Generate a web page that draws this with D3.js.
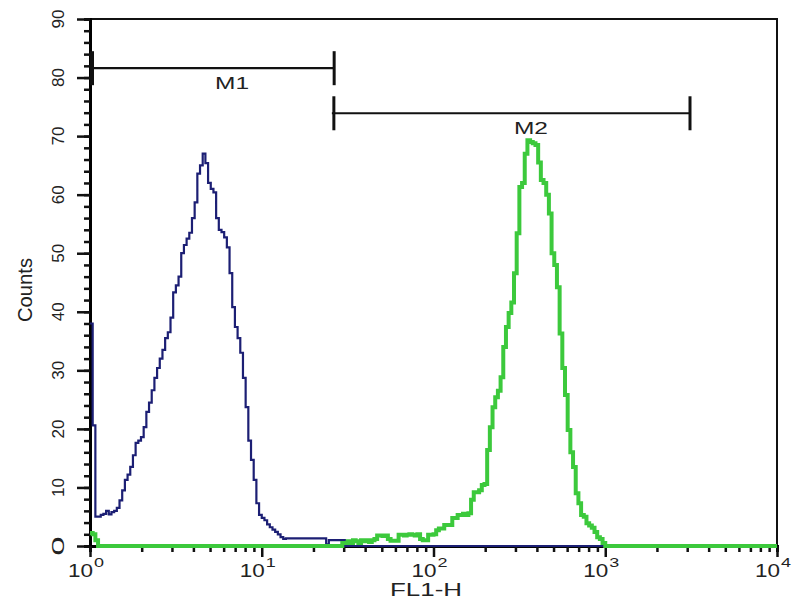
<!DOCTYPE html>
<html>
<head>
<meta charset="utf-8">
<script src="https://cdn.jsdelivr.net/npm/d3@7"></script>
<style>
  html, body { margin: 0; padding: 0; background: #fff; }
  svg { display: block; font-family: "Liberation Sans", Arial, sans-serif; }
</style>
</head>
<body>
<svg id="chart" width="800" height="600"></svg>
<script>
// 256 channels over 4 log decades (64 per decade), counts
const channels = 256;
const perDecade = 64;

// control (blue), starts at channel 0
const blueCounts = [
  38, 20.6, 5, 5, 5.3, 5.5, 6, 5.4, 5.8, 6,
  6.5, 7.8, 9.5, 11.3, 12.2, 13.5, 15.5, 17.6, 18, 18.6,
  20.3, 22.9, 24.5, 26.6, 28.7, 30.4, 32, 33.5, 35.5, 36.5,
  39, 43.3, 44.5, 46, 50, 51.4, 52.5, 53.5, 56, 58.7,
  63.6, 65, 67, 65.4, 62, 61, 60.4, 56, 54, 53.6,
  52.7, 51, 46.6, 40.8, 37.4, 35.5, 33, 28.7, 23.7, 18,
  14.7, 11.3, 7.3, 5.3, 4.8, 4.4, 3.7, 3.2, 2.8, 2.4,
  2, 1.5, 1.2, 1.3, 1.3, 1.3, 1.3, 1.3, 1.3, 1.3,
  1.3, 1.3, 1.3, 1.3, 1.3, 1.3, 1.3, 1.3, 0.3, 1,
  1, 1, 1, 1, 1
];

// stained sample (green), two stretches of non-empty channels
const greenLowStart = 0;
const greenLow = [2.2, 2, 1];
const greenHighStart = 94;
const greenHigh = [
  0.5, 0.5, 0.8, 0.5, 1, 0.8, 0.5, 1, 0.8, 1,
  0.7, 1, 1.2, 1.8, 1.8, 1.7, 1.8, 1.2, 0.9, 0.9,
  0.9, 1.9, 1.9, 1.8, 1.9, 2, 1.9, 1.8, 2, 1.2,
  1, 1, 1.9, 1.9, 2, 2.7, 3, 3, 3.6, 3.6,
  3.6, 4.8, 4.8, 5.3, 5.3, 5.5, 5.3, 5.6, 7.9, 9.2,
  9.2, 9.5, 10.4, 10.6, 16.4, 20.3, 23.7, 25.4, 26.5, 28.8,
  34, 37.4, 39.8, 41.6, 46.6, 53.4, 61.3, 62, 67, 69.3,
  69, 68.8, 68.5, 65.5, 62.5, 62, 60, 56.8, 50, 48,
  44.2, 36.3, 30.4, 25.8, 19.8, 16, 13.5, 9, 7.3, 5.3,
  5, 3.9, 3.5, 3.1, 2.4, 1.5, 1.2, 0.5
];

const yMajor = [0, 10, 20, 30, 40, 50, 60, 70, 80, 90];
const yMinorStep = 2;
const xMajor = [1, 10, 100, 1000, 10000];
const xExponents = ["0", "1", "2", "3", "4"];

const markers = [
  { name: "M1", lo: 1, hi: 26.4, level: 81.6 },
  { name: "M2", lo: 25.6, hi: 3115, level: 73.9 }
];

const margin = { top: 19, right: 23, bottom: 54, left: 90 };
const width = 800, height = 600;
const innerW = width - margin.left - margin.right;
const innerH = height - margin.top - margin.bottom;

const svg = d3.select("#chart");
const g = svg.append("g").attr("transform", `translate(${margin.left},${margin.top})`);

const x = d3.scaleLog().domain([1, 10000]).range([0, innerW]);
const y = d3.scaleLinear().domain([0, 90]).range([innerH, 0]);

// channel edges on the log axis
const edges = d3.range(channels + 1).map(i => Math.pow(10, i / perDecade));

function fullCounts(segments) {
  const arr = new Array(channels).fill(0);
  segments.forEach(([start, vals]) => vals.forEach((v, i) => { arr[start + i] = v; }));
  return arr;
}

function stepPoints(counts) {
  const pts = counts.map((v, i) => [edges[i], v]);
  pts.push([edges[channels], counts[channels - 1]]);
  return pts;
}

const line = d3.line()
  .x(d => x(d[0]))
  .y(d => y(d[1]))
  .curve(d3.curveStepAfter);

const blue = fullCounts([[0, blueCounts]]);
const green = fullCounts([[greenLowStart, greenLow], [greenHighStart, greenHigh]]);

// frame
g.append("rect")
  .attr("x", 0).attr("y", 0)
  .attr("width", innerW).attr("height", innerH)
  .attr("fill", "none")
  .attr("stroke", "#111")
  .attr("stroke-width", 2);

// y axis
const yMinor = d3.range(0, 91, yMinorStep);
g.append("g")
  .call(d3.axisLeft(y).tickValues(yMinor).tickSize(6).tickFormat(""))
  .call(s => s.select(".domain").attr("stroke-width", 3));
g.append("g")
  .call(d3.axisLeft(y).tickValues(yMajor).tickSize(13).tickFormat(""))
  .call(s => s.select(".domain").remove());

g.selectAll(".ylab")
  .data(yMajor)
  .join("text")
  .attr("class", "ylab")
  .attr("transform", d => `translate(${58 - margin.left},${y(d)}) rotate(-90)`)
  .attr("text-anchor", "middle")
  .attr("dy", "0.36em")
  .attr("font-size", 17)
  .attr("textLength", 19)
  .attr("lengthAdjust", "spacingAndGlyphs")
  .attr("fill", "#222")
  .text(d => d);

svg.append("text")
  .attr("transform", `translate(32,290) rotate(-90)`)
  .attr("text-anchor", "middle")
  .attr("font-size", 20)
  .attr("textLength", 64)
  .attr("lengthAdjust", "spacingAndGlyphs")
  .attr("fill", "#222")
  .text("Counts");

// x axis
const xMinor = [];
xMajor.slice(0, -1).forEach(b => { for (let k = 2; k <= 9; k++) xMinor.push(b * k); });
const xg = g.append("g").attr("transform", `translate(0,${innerH})`);
xg.append("g")
  .call(d3.axisBottom(x).tickValues(xMinor).tickSize(6).tickFormat(""))
  .call(s => s.select(".domain").attr("stroke-width", 3));
xg.append("g")
  .call(d3.axisBottom(x).tickValues(xMajor).tickSize(11).tickFormat(""))
  .call(s => s.select(".domain").remove());
g.selectAll(".tick line").attr("stroke", "#111").attr("stroke-width", 2.5);

xMajor.forEach((v, i) => {
  const px = x(v);
  xg.append("text")
    .attr("x", px + 3).attr("y", 31)
    .attr("text-anchor", "end")
    .attr("font-size", 18)
    .attr("textLength", 25)
    .attr("lengthAdjust", "spacingAndGlyphs")
    .attr("fill", "#222")
    .text("10");
  xg.append("text")
    .attr("x", px + 4).attr("y", 21)
    .attr("font-size", 13)
    .attr("textLength", 10)
    .attr("lengthAdjust", "spacingAndGlyphs")
    .attr("fill", "#222")
    .text(xExponents[i]);
});

xg.append("text")
  .attr("x", 426 - margin.left).attr("y", 50)
  .attr("text-anchor", "middle")
  .attr("font-size", 18)
  .attr("textLength", 72)
  .attr("lengthAdjust", "spacingAndGlyphs")
  .attr("fill", "#222")
  .text("FL1-H");

// histograms drawn over the axes
g.append("path")
  .datum(stepPoints(blue))
  .attr("fill", "none")
  .attr("stroke", "#1c1f74")
  .attr("stroke-width", 2.2)
  .attr("d", line);

g.append("path")
  .datum(stepPoints(green))
  .attr("fill", "none")
  .attr("stroke", "#3cc93c")
  .attr("stroke-width", 4)
  .attr("d", line);

// region markers
const barHalf = 17;
const mk = g.selectAll(".marker").data(markers).join("g").attr("class", "marker");
mk.append("line")
  .attr("x1", d => x(d.lo)).attr("x2", d => x(d.hi))
  .attr("y1", d => y(d.level)).attr("y2", d => y(d.level))
  .attr("stroke", "#111").attr("stroke-width", 2.2);
mk.append("line")
  .attr("x1", d => x(d.lo) + 2).attr("x2", d => x(d.lo) + 2)
  .attr("y1", d => y(d.level) - barHalf).attr("y2", d => y(d.level) + barHalf)
  .attr("stroke", "#111").attr("stroke-width", d => d.lo === 1 ? 4 : 3);
mk.append("line")
  .attr("x1", d => x(d.hi)).attr("x2", d => x(d.hi))
  .attr("y1", d => y(d.level) - barHalf).attr("y2", d => y(d.level) + barHalf)
  .attr("stroke", "#111").attr("stroke-width", 3);
mk.append("text")
  .attr("x", d => (x(d.lo) + x(d.hi)) / 2 + 20)
  .attr("y", d => y(d.level) + 21)
  .attr("text-anchor", "middle")
  .attr("font-size", 16)
  .attr("textLength", 34)
  .attr("lengthAdjust", "spacingAndGlyphs")
  .attr("fill", "#222")
  .text(d => d.name);
</script>
</body>
</html>
